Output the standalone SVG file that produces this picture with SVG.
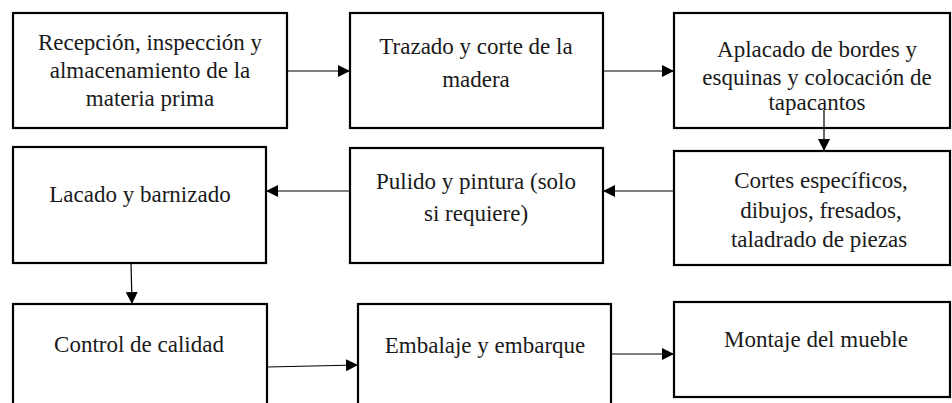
<svg xmlns="http://www.w3.org/2000/svg" width="952" height="403" viewBox="0 0 952 403">
<defs>
<style>
.box{fill:#fff;stroke:#000;stroke-width:2.2}
text{font-family:'Liberation Serif','Times New Roman',Tinos,serif;font-size:23px;fill:#1a1a1a;text-anchor:middle}
.c{stroke:#000;stroke-width:1.2;fill:none;marker-end:url(#ah)}
</style>
<marker id="ah" viewBox="0 0 10 10" refX="10" refY="5" markerWidth="12" markerHeight="12" markerUnits="userSpaceOnUse" orient="auto">
<path d="M0,0 L10,5 L0,10 Z" fill="#000"/>
</marker>
</defs>
<rect width="952" height="403" fill="#fff"/>
<g font-family="'Liberation Serif', 'Times New Roman', serif">
<g id="n1"><rect class="box" x="13" y="13" width="274" height="115"/>
<text x="150" y="50">Recepción, inspección y</text>
<text x="150" y="78">almacenamiento de la</text>
<text x="150" y="106">materia prima</text></g>
<g id="n2"><rect class="box" x="350" y="13" width="253" height="115"/>
<text x="476" y="54">Trazado y corte de la</text>
<text x="476" y="87">madera</text></g>
<g id="n3"><rect class="box" x="674" y="13" width="276" height="115"/>
<text x="817" y="57">Aplacado de bordes y</text>
<text x="817" y="85">esquinas y colocación de</text>
<text x="817" y="110">tapacantos</text></g>
<g id="n4"><rect class="box" x="13" y="147" width="253" height="116"/>
<text x="140" y="202">Lacado y barnizado</text></g>
<g id="n5"><rect class="box" x="350" y="148" width="253" height="115"/>
<text x="476" y="189">Pulido y pintura (solo</text>
<text x="476" y="221">si requiere)</text></g>
<g id="n6"><rect class="box" x="674" y="151" width="276" height="114"/>
<text x="821" y="188">Cortes específicos,</text>
<text x="821" y="218">dibujos, fresados,</text>
<text x="819" y="247">taladrado de piezas</text></g>
<g id="n7"><rect class="box" x="13" y="304" width="254" height="110"/>
<text x="139" y="352">Control de calidad</text></g>
<g id="n8"><rect class="box" x="358" y="304" width="253" height="110"/>
<text x="485" y="353">Embalaje y embarque</text></g>
<g id="n9"><rect class="box" x="674" y="302" width="276" height="95"/>
<text x="816" y="347">Montaje del mueble</text></g>
</g>
<g id="connectors">
<line class="c" x1="287" y1="71" x2="350" y2="71"/>
<line class="c" x1="603" y1="71" x2="674" y2="71"/>
<line class="c" x1="824" y1="110" x2="824" y2="151"/>
<line class="c" x1="674" y1="191" x2="603" y2="191"/>
<line class="c" x1="350" y1="191" x2="266" y2="191"/>
<line class="c" x1="131" y1="263" x2="132" y2="304"/>
<line class="c" x1="267" y1="367" x2="358" y2="365"/>
<line class="c" x1="611" y1="354" x2="674" y2="354"/>
</g>
</svg>
